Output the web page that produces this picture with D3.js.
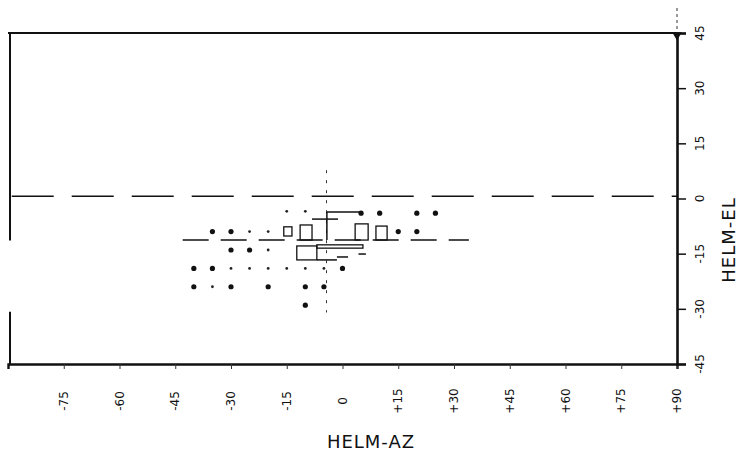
<!DOCTYPE html>
<html>
<head>
<meta charset="utf-8">
<script src="https://cdn.jsdelivr.net/npm/d3@7/dist/d3.min.js"></script>
<style>
  body { margin: 0; background: #fff; }
  svg { display: block; }
  text { font-family: "DejaVu Sans", sans-serif; fill: #111; }
</style>
</head>
<body>
<svg id="chart"></svg>
<script>
// axis ticks (degrees)
const xTicks = [-75, -60, -45, -30, -15, 0, 15, 30, 45, 60, 75, 90];
const xTickLabels = ['-75', '-60', '-45', '-30', '-15', '0', '+15', '+30', '+45', '+60', '+75', '+90'];
const yTicks = [45, 30, 15, 0, -15, -30, -45];
const yTickLabels = ['45', '30', '15', '0', '-15', '-30', '-45'];

// large dots: azimuth / elevation
const bigAz = [5, 10, 20, 25, -35, -30, 15, 20, -30, -25, -40, -35, 0, -30, -20, -10, -5, -10, -40];
const bigEl = [-4, -4, -4, -4, -9, -9, -9, -9, -14, -14, -19, -19, -19, -24, -24, -24, -24, -29, -24];

// small dots
const smallAz = [-15, -10, -25, -20, -20, -30, -25, -20, -15, -10, -5, -35];
const smallEl = [-3.5, -3.5, -9, -9, -14, -19, -19, -19, -19, -19, -19, -24];

// boxes: az0, az1, el0, el1
const boxes = [
    [-15.8, -13.6, -7.7, -10.2],
    [-11.4, -8.2, -7.2, -11.3],
    [-12.3, -6.9, -12.9, -16.7],
    [3.4, 6.9, -6.9, -11.3],
    [9.0, 12.0, -7.5, -11.3],
    [-6.9, 5.5, -12.6, -13.5]
];

// loose segments: az0, el0, az1, el1
const segments = [
    [-4.2, -3.7, 5.5, -3.7],
    [-8.2, -5.6, -1.2, -5.6],
    [-4.2, -3.7, -4.2, -11.3],
    [-1.5, -15.9, 1.5, -15.9],
    [-6.9, -16.7, -1.5, -16.7],
    [4.3, -15.1, 6.3, -15.1]
];

// reference lines
const zeroLine = { el: 0.6, az0: -89, az1: 90 };
const lowLine = { el: -11.3, az0: -43, az1: 34 };
const vertLine = { az: -4.3, el0: 7.7, el1: -31 };
const leftEdge = [[45, -11.4], [-30.8, -45]];

const width = 738;
const height = 462;

const svg = d3.select('#chart')
    .attr('width', width)
    .attr('height', height);

const x = d3.scaleLinear().domain([-90, 90]).range([8, 677]);
const y = d3.scaleLinear().domain([-45, 45]).range([364, 33]);

// reference dashed lines
svg.append('line')
    .attr('x1', x(zeroLine.az0)).attr('x2', x(zeroLine.az1))
    .attr('y1', y(zeroLine.el)).attr('y2', y(zeroLine.el))
    .attr('stroke', '#111').attr('stroke-width', 1.6)
    .attr('stroke-dasharray', '42,18');

svg.append('line')
    .attr('x1', x(lowLine.az0)).attr('x2', x(lowLine.az1))
    .attr('y1', y(lowLine.el)).attr('y2', y(lowLine.el))
    .attr('stroke', '#111').attr('stroke-width', 1.6)
    .attr('stroke-dasharray', '26,12');

svg.append('line')
    .attr('x1', x(vertLine.az)).attr('x2', x(vertLine.az))
    .attr('y1', y(vertLine.el0)).attr('y2', y(vertLine.el1))
    .attr('stroke', '#333').attr('stroke-width', 1)
    .attr('stroke-dasharray', '3,7');

// boxes and segments
svg.append('g').selectAll('rect')
    .data(boxes)
    .join('rect')
    .attr('x', d => x(d[0]))
    .attr('y', d => y(d[2]))
    .attr('width', d => x(d[1]) - x(d[0]))
    .attr('height', d => y(d[3]) - y(d[2]))
    .attr('fill', 'none')
    .attr('stroke', '#111')
    .attr('stroke-width', 1.3);

svg.append('g').selectAll('line')
    .data(segments)
    .join('line')
    .attr('x1', d => x(d[0])).attr('y1', d => y(d[1]))
    .attr('x2', d => x(d[2])).attr('y2', d => y(d[3]))
    .attr('stroke', '#111')
    .attr('stroke-width', 1.5);

// dots
svg.append('g').selectAll('circle')
    .data(d3.zip(bigAz, bigEl))
    .join('circle')
    .attr('cx', d => x(d[0]))
    .attr('cy', d => y(d[1]))
    .attr('r', 2.6)
    .attr('fill', '#111');

svg.append('g').selectAll('circle')
    .data(d3.zip(smallAz, smallEl))
    .join('circle')
    .attr('cx', d => x(d[0]))
    .attr('cy', d => y(d[1]))
    .attr('r', 1.4)
    .attr('fill', '#222');

// frame: top line and broken left edge
svg.append('line')
    .attr('x1', x(-90)).attr('x2', x(90))
    .attr('y1', y(45)).attr('y2', y(45))
    .attr('stroke', '#111').attr('stroke-width', 2.2);

svg.append('g').selectAll('line')
    .data(leftEdge)
    .join('line')
    .attr('x1', x(-90) + 2).attr('x2', x(-90) + 2)
    .attr('y1', d => y(d[0])).attr('y2', d => y(d[1]))
    .attr('stroke', '#111').attr('stroke-width', 2);

// bottom axis
const xAxis = svg.append('g')
    .attr('transform', `translate(0,${y(-45)})`)
    .call(d3.axisBottom(x).tickValues(xTicks).tickSize(5).tickFormat(''));
xAxis.select('.domain').attr('stroke', '#111').attr('stroke-width', 2.4);
xAxis.selectAll('.tick line').attr('stroke', '#333').attr('stroke-width', 1);

svg.append('g').selectAll('text')
    .data(xTicks)
    .join('text')
    .attr('transform', d => `translate(${x(d) + 4},401) rotate(-90)`)
    .attr('text-anchor', 'middle')
    .style('font-size', '12px')
    .text((d, i) => xTickLabels[i]);

// right axis
const yAxis = svg.append('g')
    .attr('transform', `translate(${x(90)},0)`)
    .call(d3.axisRight(y).tickValues(yTicks).tickSize(9).tickFormat(''));
yAxis.select('.domain').attr('stroke', '#111').attr('stroke-width', 2.6);
yAxis.selectAll('.tick line').attr('stroke', '#111').attr('stroke-width', 1.5);

svg.append('g').selectAll('text')
    .data(yTicks)
    .join('text')
    .attr('transform', d => `translate(${x(90) + 27},${y(d)}) rotate(-90)`)
    .attr('text-anchor', 'middle')
    .style('font-size', '12px')
    .text((d, i) => yTickLabels[i]);

// corner marker and dotted riser
svg.append('line')
    .attr('x1', x(90)).attr('x2', x(90))
    .attr('y1', 8).attr('y2', y(45))
    .attr('stroke', '#333').attr('stroke-width', 1)
    .attr('stroke-dasharray', '3,3');

svg.append('path')
    .attr('d', d3.symbol(d3.symbolTriangle, 40)())
    .attr('transform', `translate(${x(90)},${y(45) + 2}) rotate(180)`)
    .attr('fill', '#111');

// axis titles
svg.append('text')
    .attr('x', 371)
    .attr('y', 448)
    .attr('text-anchor', 'middle')
    .style('font-size', '18px')
    .style('letter-spacing', '1px')
    .text('HELM-AZ');

svg.append('text')
    .attr('transform', `translate(735,240) rotate(-90)`)
    .attr('text-anchor', 'middle')
    .style('font-size', '18px')
    .style('letter-spacing', '1px')
    .text('HELM-EL');
</script>
</body>
</html>
